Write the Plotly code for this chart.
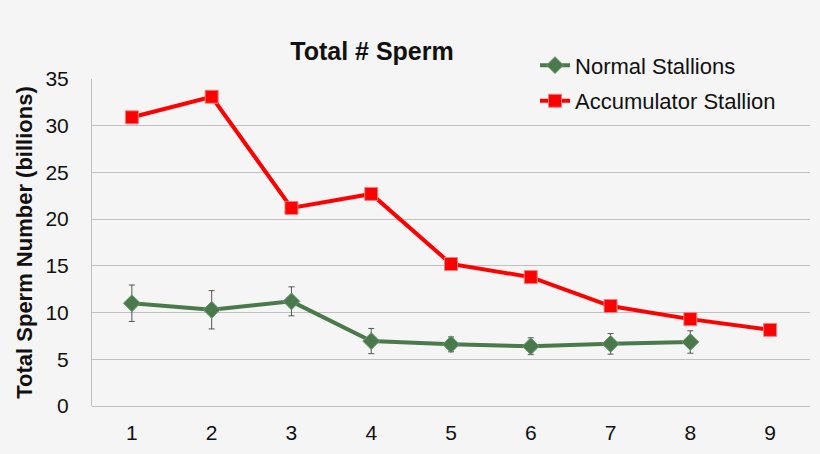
import plotly.graph_objects as go

x_labels = [1, 2, 3, 4, 5, 6, 7, 8, 9]
normal_x = [1, 2, 3, 4, 5, 6, 7, 8]
normal_vals = [11.0, 10.3, 11.2, 6.95, 6.6, 6.4, 6.65, 6.85]
normal_err = [1.95, 2.05, 1.55, 1.35, 0.8, 0.9, 1.1, 1.2]
accum_x = [1, 2, 3, 4, 5, 6, 7, 8, 9]
accum_vals = [30.9, 33.1, 21.2, 22.7, 15.2, 13.8, 10.7, 9.3, 8.15]

FONT = "Liberation Sans, Arial, sans-serif"
BG = "#f5f5f5"

fig = go.Figure()
fig.add_trace(go.Scatter(
    x=normal_x, y=normal_vals, name="Normal Stallions", mode="lines+markers",
    legendgroup="a",
    line=dict(color="#4a7a4c", width=4),
    marker=dict(symbol="diamond", size=13, color="#4a7a4c",
                line=dict(color="#6e9a70", width=1)),
    error_y=dict(type="data", array=normal_err, visible=True,
                 color="#555555", thickness=1, width=3),
))
fig.add_trace(go.Scatter(
    x=accum_x, y=accum_vals, name="Accumulator Stallion", mode="lines+markers",
    legendgroup="b",
    line=dict(color="#ff0000", width=4),
    marker=dict(symbol="square", size=13, color="#ff0000",
                line=dict(color="#f08080", width=1)),
))

fig.update_layout(
    width=820, height=454,
    margin=dict(l=92, r=10, t=79, b=45),
    paper_bgcolor=BG, plot_bgcolor=BG,
    font=dict(family=FONT, size=21, color="#111111"),
    title=dict(text="<b>Total # Sperm</b>", x=372 / 820, xanchor="center",
               y=1 - 51 / 454, yanchor="middle", font=dict(size=25, color="#111111")),
    showlegend=True,
    legend=dict(x=0.617, xanchor="left", y=1.106, yanchor="top",
                bgcolor="rgba(0,0,0,0)", font=dict(size=22),
                traceorder="grouped", tracegroupgap=4,
                itemwidth=30),
    xaxis=dict(range=[0.5, 9.5], tickmode="array", tickvals=x_labels,
               ticktext=[str(v) for v in x_labels], showgrid=False,
               showline=False, zeroline=False, ticks="", ticklabelstandoff=12),
    yaxis=dict(range=[0, 35], dtick=5, showgrid=True, gridcolor="#c0c0c0",
               gridwidth=1, showline=True, linecolor="#c0c0c0", linewidth=1,
               zeroline=True, zerolinecolor="#c0c0c0", zerolinewidth=1,
               ticks="", ticklabelstandoff=18,
               title=dict(text="<b>Total Sperm Number (billions)</b>",
                          font=dict(size=22), standoff=6)),
)

fig.write_html(
    "out.html",
    config={"displayModeBar": False},
    post_script="document.body.style.margin='0';document.body.style.background='%s';" % BG,
)
